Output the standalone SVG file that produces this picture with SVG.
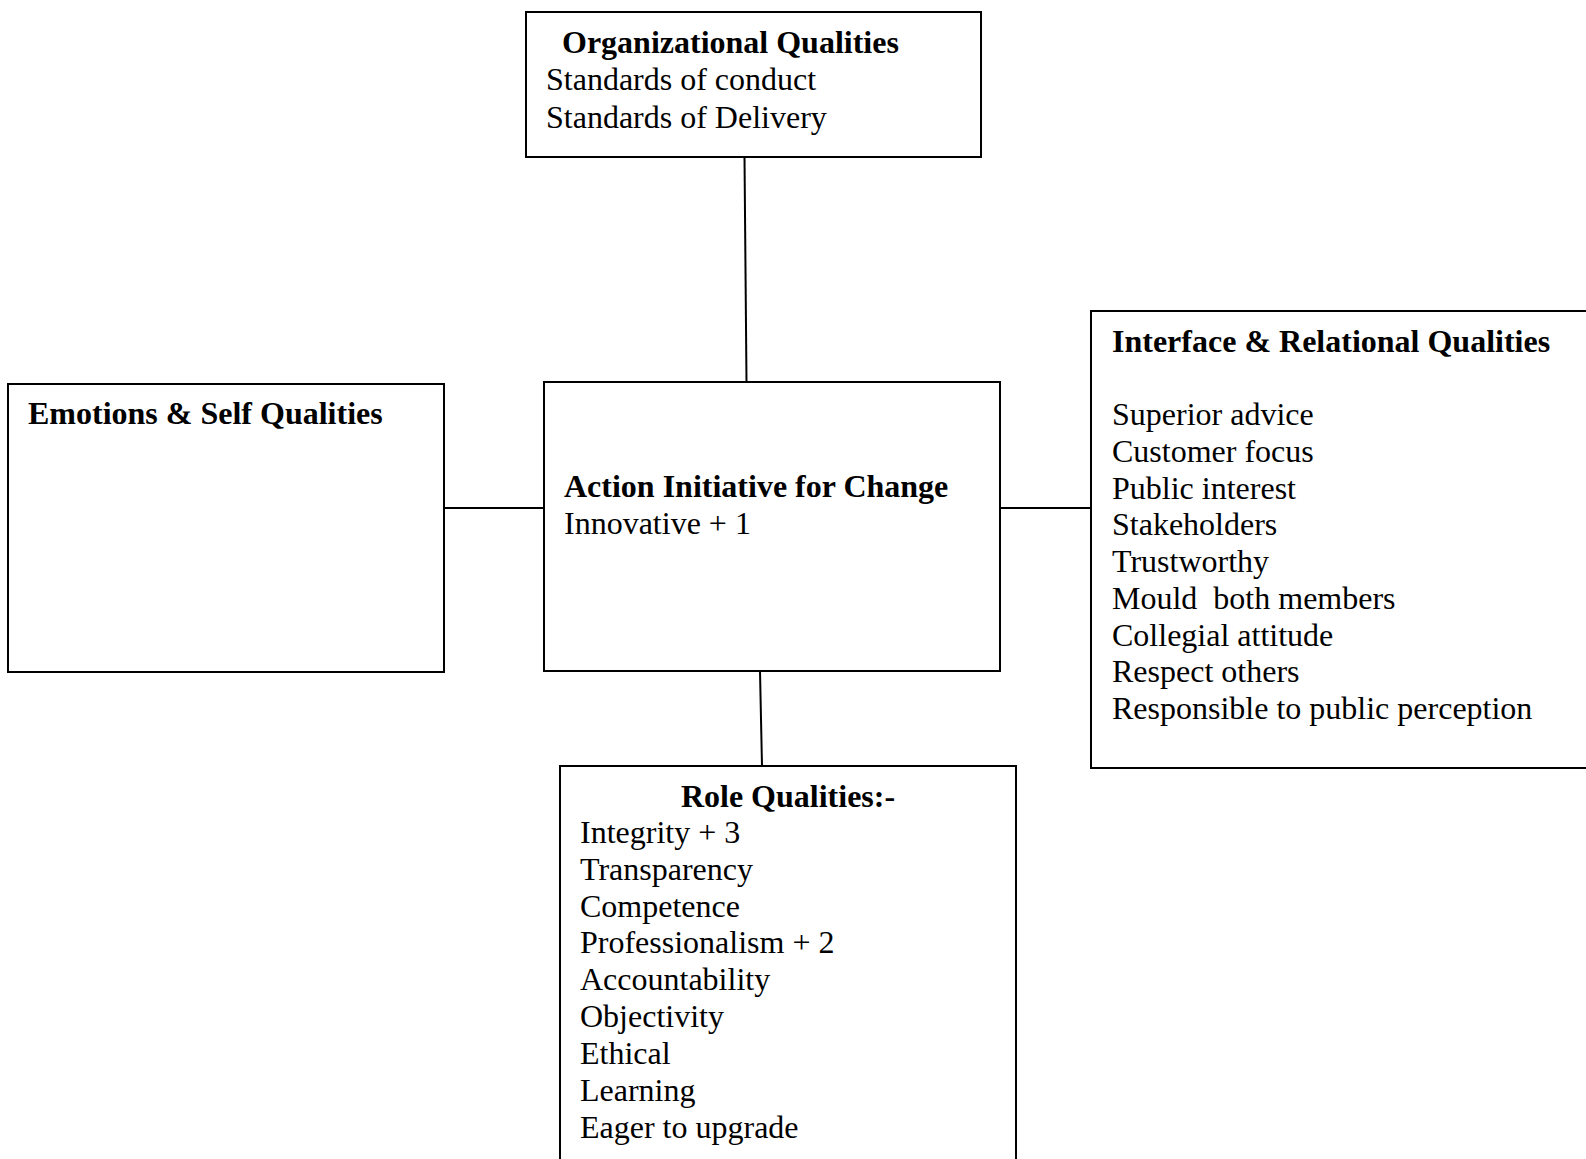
<svg xmlns="http://www.w3.org/2000/svg" width="1586" height="1159" viewBox="0 0 1586 1159">
<style>
.box{fill:#fff;stroke:#000;stroke-width:2}
.ln{stroke:#000;stroke-width:2;fill:none}
text{font-family:"Liberation Serif","Times New Roman",serif;font-size:32px;fill:#000}
.b{font-weight:bold}
</style>
<rect width="1586" height="1159" fill="#fff"/>
<g id="connectors">
<line class="ln" x1="744.5" y1="157" x2="746.5" y2="382"/>
<line class="ln" x1="444" y1="508" x2="544" y2="508"/>
<line class="ln" x1="1000" y1="508" x2="1091" y2="508"/>
<line class="ln" x1="760" y1="671" x2="762" y2="766"/>
</g>
<g id="organizational">
<rect class="box" x="526" y="12" width="455" height="145"/>
<text class="b" x="562" y="53">Organizational Qualities</text>
<text x="546" y="90">Standards of conduct</text>
<text x="546" y="128">Standards of Delivery</text>
</g>
<g id="emotions">
<rect class="box" x="8" y="384" width="436" height="288"/>
<text class="b" x="28" y="424">Emotions &amp; Self Qualities</text>
</g>
<g id="action">
<rect class="box" x="544" y="382" width="456" height="289"/>
<text class="b" x="564" y="497">Action Initiative for Change</text>
<text x="564" y="534">Innovative + 1</text>
</g>
<g id="interface">
<rect class="box" x="1091" y="311" width="520" height="457"/>
<text class="b" x="1112" y="352">Interface &amp; Relational Qualities</text>
<text x="1112" y="425">Superior advice</text>
<text x="1112" y="462">Customer focus</text>
<text x="1112" y="498.5">Public interest</text>
<text x="1112" y="535">Stakeholders</text>
<text x="1112" y="572">Trustworthy</text>
<text x="1112" y="609" xml:space="preserve">Mould  both members</text>
<text x="1112" y="645.5">Collegial attitude</text>
<text x="1112" y="682">Respect others</text>
<text x="1112" y="719">Responsible to public perception</text>
</g>
<g id="role">
<rect class="box" x="560" y="766" width="456" height="420"/>
<text class="b" x="788" y="807" text-anchor="middle">Role Qualities:-</text>
<text x="580" y="843">Integrity + 3</text>
<text x="580" y="880">Transparency</text>
<text x="580" y="917">Competence</text>
<text x="580" y="953">Professionalism + 2</text>
<text x="580" y="990">Accountability</text>
<text x="580" y="1027">Objectivity</text>
<text x="580" y="1064">Ethical</text>
<text x="580" y="1101">Learning</text>
<text x="580" y="1138">Eager to upgrade</text>
</g>
</svg>
